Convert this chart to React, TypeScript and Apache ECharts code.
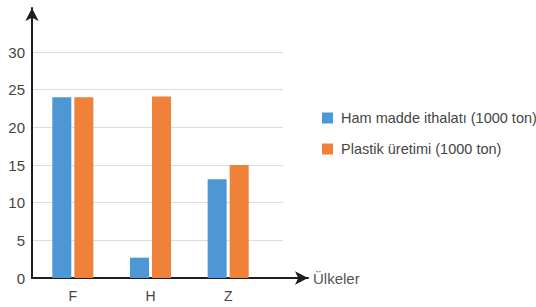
import React, { useEffect, useRef } from "react";
import * as echarts from "echarts";

const categories = ["F", "H", "Z"];
const hamMadde = [24, 2.7, 13.1];
const plastik = [24, 24.1, 15];
const seriesNames = ["Ham madde ithalatı (1000 ton)", "Plastik üretimi (1000 ton)"];
const yMin = 0;
const yMax = 30;
const yStep = 5;

export default function App() {
  const ref = useRef<HTMLDivElement>(null);
  useEffect(() => {
    const chart = echarts.init(ref.current!, null, { renderer: "svg" });
    const font = "Liberation Sans, Arial, sans-serif";
    const axisColor = "#1e1e1e";
    chart.setOption({
      animation: false,
      backgroundColor: "#ffffff",
      textStyle: { fontFamily: font },
      grid: [
        { left: 32, top: 52, width: 251, height: 226 },
        { left: 34, top: 52, width: 233, height: 226 },
        { left: 32, top: 8, width: 276, height: 270 },
      ],
      legend: {
        orient: "vertical",
        left: 317,
        top: 105,
        itemWidth: 11,
        itemHeight: 11,
        itemGap: 15,
        icon: "rect",
        data: seriesNames,
        textStyle: {
          fontSize: 14.5,
          color: "#454545",
          fontFamily: font,
          lineHeight: 16,
          padding: [0, 0, 0, 3],
        },
      },
      xAxis: [
        { gridIndex: 0, type: "value", min: 0, max: 1, show: false },
        {
          gridIndex: 1,
          type: "category",
          data: categories,
          axisLine: { show: false },
          axisTick: { show: false },
          axisLabel: { margin: 11, fontSize: 14, color: "#444", fontFamily: font },
        },
        {
          gridIndex: 2,
          type: "value",
          min: 0,
          max: 1,
          axisLine: {
            show: true,
            lineStyle: { color: axisColor, width: 2 },
            symbol: ["none", "arrow"],
            symbolSize: [10, 13],
          },
          axisTick: { show: false },
          axisLabel: { show: false },
          splitLine: { show: false },
          name: "Ülkeler",
          nameLocation: "end",
          nameGap: 5,
          nameTextStyle: { fontSize: 15, color: "#555", fontFamily: font },
        },
      ],
      yAxis: [
        {
          gridIndex: 0,
          type: "value",
          min: yMin,
          max: yMax,
          interval: yStep,
          axisLine: { show: false },
          axisTick: { show: false },
          axisLabel: { margin: 7, fontSize: 15, color: "#444", fontFamily: font },
          splitLine: { lineStyle: { color: "#dcdcdc", width: 1 } },
        },
        { gridIndex: 1, type: "value", min: yMin, max: yMax, show: false },
        {
          gridIndex: 2,
          type: "value",
          min: 0,
          max: 1,
          axisLine: {
            show: true,
            lineStyle: { color: axisColor, width: 2 },
            symbol: ["none", "arrow"],
            symbolSize: [10, 13],
          },
          axisTick: { show: false },
          axisLabel: { show: false },
          splitLine: { show: false },
        },
      ],
      series: [
        {
          name: seriesNames[0],
          type: "bar",
          xAxisIndex: 1,
          yAxisIndex: 1,
          data: hamMadde,
          barWidth: 19,
          barGap: "16%",
          itemStyle: { color: "#4d98d4" },
        },
        {
          name: seriesNames[1],
          type: "bar",
          xAxisIndex: 1,
          yAxisIndex: 1,
          data: plastik,
          barWidth: 19,
          barGap: "16%",
          itemStyle: { color: "#f0813b" },
        },
      ],
    });
    return () => chart.dispose();
  }, []);
  return (
    <div
      ref={ref}
      style={{ position: "fixed", left: 0, top: 0, width: 536, height: 307 }}
    />
  );
}
